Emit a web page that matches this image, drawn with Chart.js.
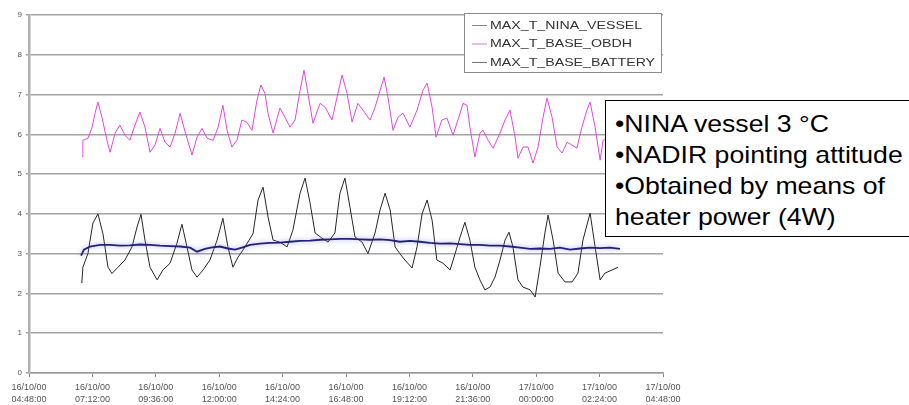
<!DOCTYPE html>
<html>
<head>
<meta charset="utf-8">
<script src="https://cdn.jsdelivr.net/npm/chart.js@4.4.1/dist/chart.umd.min.js"></script>
<style>
  html, body { margin: 0; padding: 0; background: #fff; }
  #wrap { position: relative; width: 909px; height: 405px; overflow: hidden; }
  #note {
    position: absolute; left: 605px; top: 100px; width: 330px; height: 137px;
    border: 1px solid #000; background: #fff;
    font-family: "Liberation Sans", Arial, sans-serif; font-size: 24px; line-height: 31px;
    color: #000; box-sizing: border-box; padding: 7px 0 0 9px;
  }
  #note div { transform: scaleX(1.11); transform-origin: left center; white-space: nowrap; }
</style>
</head>
<body>
<div id="wrap">
  <canvas id="c" width="909" height="405"></canvas>
  <div id="note">
    <div>•NINA vessel 3 °C</div>
    <div>•NADIR pointing attitude</div>
    <div>•Obtained by means of</div>
    <div>heater power (4W)</div>
  </div>
</div>
<script>
// ---- tick labels (hours since 16/10/00 00:00) ----
const xTickHours = [4.8, 7.2, 9.6, 12, 14.4, 16.8, 19.2, 21.6, 24, 26.4, 28.8];
const xTickLabels = [
  ["16/10/00", "04:48:00"], ["16/10/00", "07:12:00"], ["16/10/00", "09:36:00"],
  ["16/10/00", "12:00:00"], ["16/10/00", "14:24:00"], ["16/10/00", "16:48:00"],
  ["16/10/00", "19:12:00"], ["16/10/00", "21:36:00"], ["17/10/00", "00:00:00"],
  ["17/10/00", "02:24:00"], ["17/10/00", "04:48:00"]
];
const seriesNames = ["MAX_T_NINA_VESSEL", "MAX_T_BASE_OBDH", "MAX_T_BASE_BATTERY"];

// ---- MAX_T_NINA_VESSEL ----
const vesselHours = [6.77, 6.88, 7.11, 7.49, 7.87, 8.24, 8.62, 9.00, 9.38, 9.76, 10.14, 10.52, 10.90, 11.16, 11.46, 11.73,
  12.03, 12.33, 12.60, 12.86, 13.17, 13.54, 13.92, 14.30, 14.68, 15.06, 15.44, 15.82, 16.19, 16.57, 16.95, 17.33,
  17.71, 18.09, 18.47, 18.84, 19.22, 19.60, 19.98, 20.36, 20.74, 21.12, 21.49, 21.87, 22.25, 22.63, 23.01, 23.39,
  23.77, 24.14, 24.52, 24.90, 25.28, 25.66, 26.04, 26.42, 26.79, 27.17];
const vesselValues = [2.95, 3.10, 3.18, 3.22, 3.22, 3.20, 3.21, 3.23, 3.22, 3.20, 3.19, 3.18, 3.15, 3.05, 3.12, 3.16,
  3.18, 3.13, 3.10, 3.15, 3.22, 3.25, 3.27, 3.28, 3.30, 3.32, 3.33, 3.35, 3.36, 3.37, 3.37, 3.36,
  3.35, 3.36, 3.34, 3.30, 3.32, 3.30, 3.27, 3.25, 3.26, 3.24, 3.22, 3.22, 3.20, 3.20, 3.18, 3.15,
  3.12, 3.13, 3.12, 3.15, 3.10, 3.13, 3.15, 3.14, 3.15, 3.12];

// ---- MAX_T_BASE_OBDH ----
const obdhHours = [6.81, 6.84, 7.03, 7.19, 7.30, 7.41, 7.56, 7.75, 7.87, 8.06, 8.24, 8.43, 8.62, 8.81, 9.00, 9.19,
  9.38, 9.57, 9.76, 9.95, 10.14, 10.33, 10.52, 10.71, 10.97, 11.16, 11.35, 11.54, 11.77, 11.96, 12.14, 12.30,
  12.48, 12.67, 12.86, 13.05, 13.24, 13.43, 13.58, 13.73, 13.85, 14.04, 14.30, 14.49, 14.68, 14.87, 15.06, 15.21,
  15.36, 15.55, 15.82, 16.01, 16.27, 16.46, 16.65, 16.84, 17.03, 17.25, 17.44, 17.71, 17.90, 18.09, 18.24, 18.39,
  18.58, 18.77, 18.96, 19.22, 19.49, 19.71, 19.87, 20.06, 20.21, 20.43, 20.62, 20.85, 21.12, 21.23, 21.38, 21.49,
  21.68, 21.87, 21.99, 22.18, 22.37, 22.63, 22.82, 23.01, 23.20, 23.31, 23.50, 23.69, 23.88, 24.07, 24.26, 24.41,
  24.60, 24.79, 24.98, 25.17, 25.36, 25.54, 25.73, 25.92, 26.04, 26.23, 26.42, 26.53, 26.79, 27.10];
const obdhValues = [5.43, 5.85, 5.90, 6.18, 6.53, 6.81, 6.43, 5.85, 5.55, 6.03, 6.23, 5.98, 5.85, 6.23, 6.56, 6.18,
  5.55, 5.73, 6.15, 5.80, 5.68, 6.03, 6.53, 6.06, 5.48, 5.93, 6.15, 5.90, 5.85, 6.18, 6.73, 6.10,
  5.68, 5.85, 6.36, 6.30, 6.10, 6.86, 7.24, 7.03, 6.53, 6.03, 6.66, 6.43, 6.18, 6.36, 7.10, 7.61,
  7.03, 6.28, 6.78, 6.68, 6.36, 6.93, 7.49, 7.03, 6.31, 6.78, 6.61, 6.36, 6.68, 7.10, 7.44, 6.93,
  6.10, 6.43, 6.53, 6.18, 6.61, 7.10, 7.29, 6.68, 5.93, 6.36, 6.41, 5.98, 6.53, 6.78, 6.73, 6.18,
  5.43, 6.03, 6.10, 5.85, 5.65, 6.03, 6.36, 6.61, 5.93, 5.40, 5.68, 5.68, 5.28, 5.68, 6.43, 6.91,
  6.43, 5.68, 5.53, 5.80, 5.73, 5.65, 6.18, 6.61, 6.81, 6.18, 5.35, 5.85, 5.90, 5.70];

// ---- MAX_T_BASE_BATTERY ----
const batteryHours = [6.80, 6.84, 7.03, 7.22, 7.41, 7.60, 7.79, 7.94, 8.17, 8.43, 8.70, 8.89, 9.04, 9.19, 9.38, 9.65,
  9.87, 10.14, 10.40, 10.59, 10.78, 10.97, 11.16, 11.39, 11.65, 11.92, 12.14, 12.33, 12.52, 12.71, 12.90, 13.28,
  13.47, 13.66, 13.85, 14.04, 14.30, 14.57, 14.79, 15.06, 15.25, 15.44, 15.63, 15.89, 16.12, 16.38, 16.57, 16.76,
  16.95, 17.14, 17.41, 17.63, 17.90, 18.09, 18.28, 18.47, 18.66, 18.84, 19.03, 19.30, 19.49, 19.68, 19.87, 20.06,
  20.24, 20.47, 20.74, 20.93, 21.12, 21.30, 21.49, 21.68, 21.87, 22.06, 22.25, 22.44, 22.63, 22.82, 22.97, 23.12,
  23.31, 23.50, 23.77, 23.96, 24.14, 24.33, 24.45, 24.64, 24.83, 25.09, 25.36, 25.58, 25.77, 26.04, 26.23, 26.42,
  26.60, 26.87, 27.10];
const batteryValues = [2.26, 2.66, 3.00, 3.77, 4.00, 3.50, 2.66, 2.50, 2.66, 2.84, 3.17, 3.67, 3.99, 3.34, 2.66, 2.34,
  2.59, 2.76, 3.26, 3.74, 3.17, 2.59, 2.41, 2.59, 2.84, 3.34, 3.89, 3.17, 2.66, 2.91, 3.09, 3.50,
  4.35, 4.67, 3.92, 3.34, 3.29, 3.17, 3.59, 4.52, 4.90, 4.27, 3.52, 3.39, 3.29, 3.52, 4.52, 4.90,
  4.17, 3.42, 3.29, 3.00, 3.52, 4.10, 4.52, 4.10, 3.17, 3.00, 2.84, 2.64, 3.17, 4.00, 4.35, 3.84,
  2.84, 2.76, 2.59, 3.00, 3.42, 3.79, 3.34, 2.66, 2.34, 2.09, 2.16, 2.41, 2.84, 3.34, 3.54, 3.17,
  2.34, 2.16, 2.09, 1.91, 2.66, 3.52, 3.97, 3.34, 2.51, 2.29, 2.29, 2.51, 3.34, 4.02, 3.17, 2.34,
  2.51, 2.59, 2.66];

const toPoints = (hs, vs) => hs.map((h, i) => ({ x: h, y: vs[i] }));

const haloPlugin = {
  id: 'halo',
  beforeDatasetDraw(chart, args) {
    if (args.index === 0) {
      chart.ctx.save();
      chart.ctx.shadowColor = 'rgba(120,120,235,0.7)';
      chart.ctx.shadowBlur = 5;
    }
  },
  afterDatasetDraw(chart, args) {
    if (args.index === 0) chart.ctx.restore();
  }
};

const legendPlugin = {
  id: 'boxLegend',
  afterDraw(chart) {
    const ctx = chart.ctx;
    ctx.save();
    const bx = 464.5, by = 13.5, bw = 197, bh = 59;
    ctx.fillStyle = '#fff';
    ctx.fillRect(bx, by, bw, bh);
    ctx.strokeStyle = '#8a8a8a';
    ctx.lineWidth = 1;
    ctx.strokeRect(bx, by, bw, bh);
    chart.data.datasets.forEach((ds, i) => {
      const y = 25 + i * 18.5;
      ctx.strokeStyle = ds.legendColor;
      ctx.lineWidth = 1;
      ctx.beginPath();
      ctx.moveTo(472, y + 0.5);
      ctx.lineTo(487, y + 0.5);
      ctx.stroke();
      ctx.save();
      ctx.translate(490, y);
      ctx.scale(1.29, 1);
      ctx.font = '11px "Liberation Sans", Arial, sans-serif';
      ctx.fillStyle = '#333';
      ctx.textBaseline = 'middle';
      ctx.fillText(ds.label, 0, 0.5);
      ctx.restore();
    });
    ctx.restore();
  }
};

new Chart(document.getElementById('c'), {
  type: 'line',
  data: {
    datasets: [
      { label: seriesNames[0], data: toPoints(vesselHours, vesselValues), borderColor: '#22227a', legendColor: '#8080c8',
        borderWidth: 1.8, pointRadius: 0, tension: 0 },
      { label: seriesNames[1], data: toPoints(obdhHours, obdhValues), borderColor: '#e048e0', legendColor: '#e070e0',
        borderWidth: 1, pointRadius: 0, tension: 0 },
      { label: seriesNames[2], data: toPoints(batteryHours, batteryValues), borderColor: '#262626', legendColor: '#707070',
        borderWidth: 1, pointRadius: 0, tension: 0 }
    ]
  },
  options: {
    responsive: false,
    animation: false,
    layout: { padding: { left: 0, right: 246, top: 15, bottom: 0 } },
    plugins: { legend: { display: false }, tooltip: { enabled: false } },
    scales: {
      x: {
        type: 'linear', min: 4.8, max: 28.8,
        afterBuildTicks: (scale) => { scale.ticks = xTickHours.map(v => ({ value: v })); },
        afterFit: (scale) => { scale.height = 32; },
        grid: { drawOnChartArea: false, drawTicks: true, tickLength: 4, color: '#8a8a8a', lineWidth: 1 },
        border: { display: true, color: '#9a9a9a', width: 1.5 },
        ticks: {
          autoSkip: false, maxRotation: 0, minRotation: 0, padding: 5,
          font: { family: '"Liberation Sans", Arial, sans-serif', size: 9, lineHeight: 1.3 }, color: '#555',
          callback: (value, index) => xTickLabels[index]
        }
      },
      y: {
        min: 0, max: 9,
        afterFit: (scale) => { scale.width = 29; },
        grid: { color: '#a3a3a3', lineWidth: 1.6, tickLength: 3 },
        border: { display: true, color: '#b0b0b0', width: 2.5 },
        ticks: {
          stepSize: 1, padding: 4,
          font: { family: '"Liberation Sans", Arial, sans-serif', size: 8 }, color: '#555'
        }
      }
    }
  },
  plugins: [haloPlugin, legendPlugin]
});
</script>
</body>
</html>
